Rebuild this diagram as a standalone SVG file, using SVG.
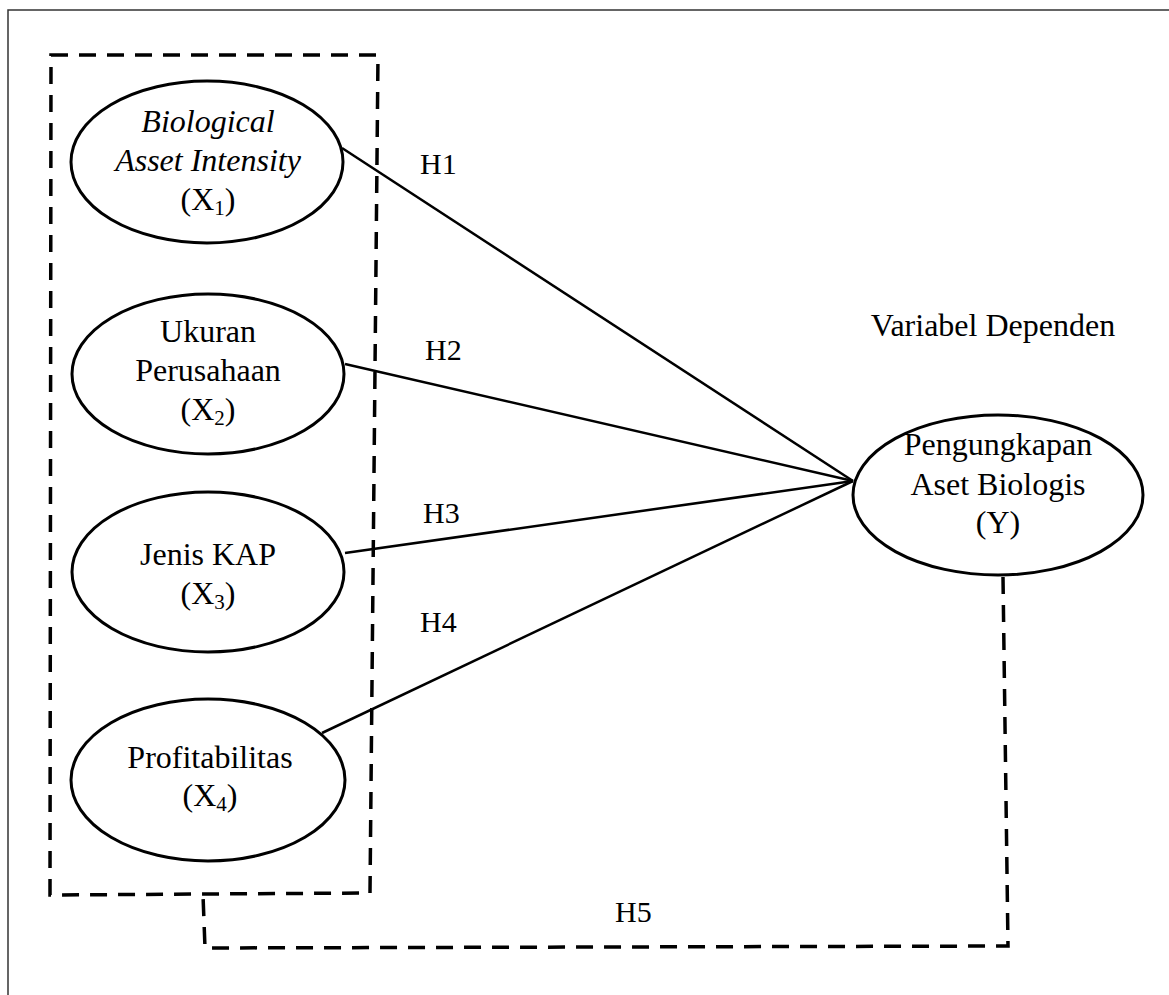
<svg xmlns="http://www.w3.org/2000/svg" width="1169" height="995" viewBox="0 0 1169 995">
<style>
.frame{fill:none;stroke:#333;stroke-width:1.5}
.node{fill:#fff;stroke:#000;stroke-width:3}
.t{font-family:"Liberation Serif","Times New Roman",serif;font-size:32px;fill:#000;text-anchor:middle}
.it{font-style:italic}
.sub{font-size:21px}
.lbl{font-family:"Liberation Serif","Times New Roman",serif;font-size:30px;fill:#000}
.solid{fill:none;stroke:#000;stroke-width:2.5}
.dash{fill:none;stroke:#000;stroke-width:3.5;stroke-dasharray:17 11}
</style>
<rect class="frame" x="8" y="10" width="1200" height="1000"/>
<g id="group-box">
<path class="dash" d="M51,55 L378,55 L370,893 L50,895 Z"/>
</g>
<g id="connectors">
<line class="solid" x1="342" y1="148" x2="853" y2="481"/>
<line class="solid" x1="345" y1="364" x2="853" y2="481"/>
<line class="solid" x1="345" y1="553" x2="853" y2="481"/>
<line class="solid" x1="322" y1="733" x2="853" y2="481"/>
<path class="dash" d="M1003,577 L1008,946 L205,948 L203,895"/>
<text class="lbl" x="420" y="174">H1</text>
<text class="lbl" x="425" y="360">H2</text>
<text class="lbl" x="423" y="523">H3</text>
<text class="lbl" x="420" y="632">H4</text>
<text class="lbl" x="615" y="922">H5</text>
</g>
<g id="node-x1">
<ellipse class="node" cx="207" cy="162" rx="136" ry="81"/>
<text class="t it" x="208" y="132">Biological</text>
<text class="t it" x="208" y="171">Asset Intensity</text>
<text class="t" x="208" y="210">(X<tspan class="sub" dy="5">1</tspan><tspan dy="-5">)</tspan></text>
</g>
<g id="node-x2">
<ellipse class="node" cx="208" cy="374" rx="136" ry="80"/>
<text class="t" x="208" y="342">Ukuran</text>
<text class="t" x="208" y="381">Perusahaan</text>
<text class="t" x="208" y="420">(X<tspan class="sub" dy="5">2</tspan><tspan dy="-5">)</tspan></text>
</g>
<g id="node-x3">
<ellipse class="node" cx="208" cy="572" rx="136" ry="80"/>
<text class="t" x="208" y="565">Jenis KAP</text>
<text class="t" x="208" y="604">(X<tspan class="sub" dy="5">3</tspan><tspan dy="-5">)</tspan></text>
</g>
<g id="node-x4">
<ellipse class="node" cx="208" cy="780" rx="137" ry="81"/>
<text class="t" x="210" y="768">Profitabilitas</text>
<text class="t" x="210" y="806">(X<tspan class="sub" dy="5">4</tspan><tspan dy="-5">)</tspan></text>
</g>
<g id="node-y">
<ellipse class="node" cx="998" cy="495" rx="145" ry="80"/>
<text class="t" x="998" y="455">Pengungkapan</text>
<text class="t" x="998" y="495">Aset Biologis</text>
<text class="t" x="998" y="533">(Y)</text>
</g>
<g id="label-dependen">
<text class="t" x="993" y="336">Variabel Dependen</text>
</g>
</svg>
